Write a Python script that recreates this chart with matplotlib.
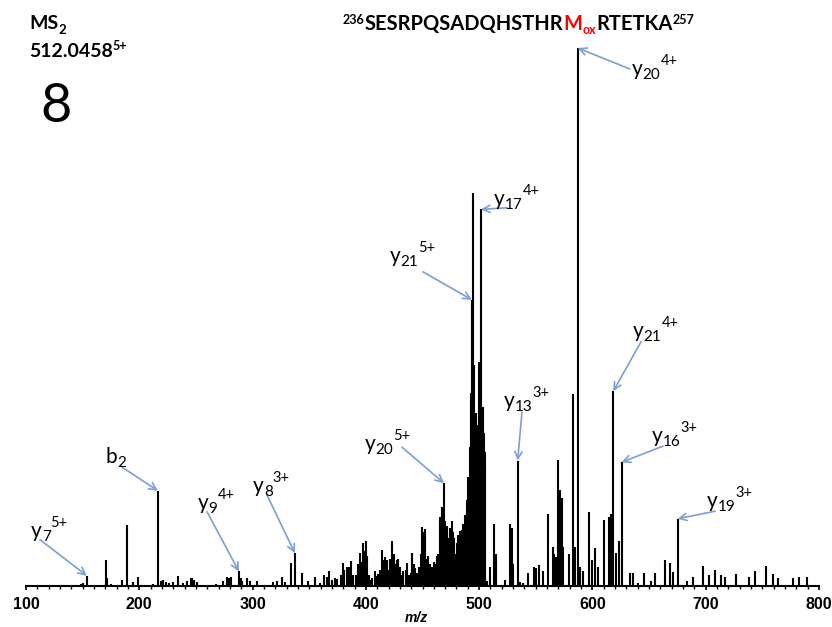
import numpy as np
import matplotlib
matplotlib.use('Agg')
import matplotlib.pyplot as plt
from matplotlib.ticker import MultipleLocator

plt.rcParams['font.family'] = ['Lato', 'DejaVu Sans']

#%% peak list (m/z, relative intensity %)
mz = np.array([
    148.5, 150.0, 153.8, 170.6, 171.8, 174.7, 184.7, 189.1, 194.2, 198.9,
    211.8, 216.5, 219.2, 220.6, 223.3, 226.5, 230.0, 234.2, 238.3, 241.8,
    245.4, 246.8, 248.5, 250.6, 267.4, 273.6, 277.7, 279.4, 281.2, 288.0,
    289.5, 290.8, 295.3, 297.7, 303.6, 318.3, 321.3, 326.0, 328.9, 333.9,
    337.4, 343.9, 349.2, 355.3, 359.5, 363.0, 365.4, 367.7, 370.4, 372.5,
    374.8, 377.7, 379.0, 380.1, 381.0, 383.0, 384.5, 385.5, 386.6, 388.9,
    391.0, 392.7, 393.5, 394.8, 396.4, 397.7, 398.9, 399.8, 401.2, 403.0,
    404.0, 405.5, 408.0, 410.2, 411.0, 412.5, 413.9, 414.8, 415.8, 416.8,
    418.3, 419.5, 420.5, 421.5, 422.8, 424.2, 425.1, 426.0, 427.2, 428.6,
    430.0, 431.5, 433.1, 435.0, 436.6, 438.0, 439.5, 440.4, 441.0, 442.2,
    443.3, 445.5, 446.5, 447.5, 448.5, 449.5, 450.5, 451.0, 452.5, 453.8,
    455.1, 456.3, 457.5, 458.8, 460.0, 461.3, 462.5, 463.2, 464.0, 465.4,
    466.2, 467.2, 468.2, 469.0, 470.2, 471.3, 472.8, 473.5, 474.2, 475.7,
    476.5, 477.2, 478.2, 479.0, 480.3, 481.6, 483.3, 484.7, 485.3, 486.0,
    487.5, 488.2, 489.0, 489.7, 490.4, 491.2, 491.9, 492.8, 493.6, 494.5,
    495.7, 496.9, 497.6, 498.3, 499.0, 499.6, 500.6, 501.0, 501.6, 502.0,
    502.4, 503.1, 503.6, 504.2, 504.8, 505.4, 506.6, 509.5, 513.4, 515.0,
    522.8, 527.2, 529.0, 530.2, 534.0, 536.0, 538.5, 543.4, 548.4, 550.1,
    553.1, 556.6, 560.4, 564.9, 566.3, 567.8, 569.8, 571.3, 572.8, 574.2,
    579.0, 582.5, 584.8, 587.0, 589.0, 591.3, 597.2, 599.2, 602.2, 604.5,
    610.4, 614.6, 616.0, 618.4, 620.7, 623.1, 625.7, 633.1, 636.0, 640.4,
    645.7, 651.3, 655.1, 663.9, 668.3, 671.3, 675.2, 683.1, 689.0, 697.2,
    703.1, 708.1, 713.4, 716.9, 726.7, 738.1, 743.4, 753.1, 759.0, 763.4,
    776.7, 782.5, 789.6])
intensity = np.array([
    0.4, 0.5, 1.9, 4.8, 1.5, 0.3, 1.1, 11.3, 0.7, 1.6,
    0.4, 17.7, 1.0, 1.1, 0.8, 0.6, 0.7, 1.9, 0.6, 0.9,
    1.4, 1.4, 1.1, 0.7, 0.4, 0.9, 1.7, 1.5, 1.7, 2.7,
    1.5, 0.9, 1.4, 0.9, 0.9, 0.7, 0.9, 1.7, 0.7, 4.2,
    6.1, 2.4, 0.9, 1.6, 0.6, 2.0, 1.7, 2.8, 1.1, 1.5,
    1.3, 2.0, 1.5, 4.3, 3.0, 3.6, 2.5, 3.5, 4.7, 2.0,
    2.0, 3.0, 4.0, 6.1, 4.5, 7.9, 6.5, 8.4, 5.5, 2.0,
    1.2, 1.5, 2.8, 1.8, 2.2, 3.0, 6.7, 4.8, 4.0, 5.4,
    4.8, 3.0, 2.5, 5.0, 8.4, 5.6, 5.9, 4.0, 4.8, 5.0,
    3.6, 2.0, 2.8, 3.0, 4.3, 2.0, 2.4, 6.1, 6.1, 4.0,
    3.3, 2.5, 3.5, 3.5, 6.0, 11.0, 10.0, 7.0, 10.6, 5.0,
    5.5, 4.0, 3.0, 3.5, 4.5, 4.0, 5.3, 5.5, 6.0, 12.9,
    10.0, 14.7, 14.0, 19.1, 12.0, 11.2, 8.0, 9.0, 10.7, 12.0,
    10.0, 7.3, 9.0, 6.0, 8.0, 9.5, 10.2, 9.0, 10.5, 11.6,
    13.2, 12.0, 14.1, 16.0, 20.3, 20.0, 25.9, 35.8, 53.2, 73.0,
    41.1, 32.1, 29.0, 25.9, 30.0, 41.7, 30.0, 35.0, 70.0, 30.0,
    28.0, 33.3, 27.0, 28.4, 25.0, 22.2, 1.0, 3.6, 11.6, 6.0,
    1.1, 11.6, 10.7, 4.0, 23.3, 0.8, 0.6, 2.4, 3.6, 3.3,
    3.9, 2.7, 13.4, 7.2, 5.9, 5.4, 23.5, 17.8, 16.3, 7.3,
    5.9, 35.7, 7.3, 100.0, 3.6, 2.7, 13.8, 4.8, 7.0, 3.6,
    12.3, 12.9, 13.3, 36.2, 6.2, 8.4, 23.0, 2.4, 2.4, 0.5,
    2.4, 1.0, 2.4, 4.8, 4.3, 2.6, 12.5, 1.0, 1.7, 3.7,
    2.1, 2.9, 2.0, 1.6, 2.3, 1.6, 2.8, 3.7, 2.3, 1.4,
    1.4, 1.7, 1.7])

#%% fragment labels
ion_letter = ['y', 'y', 'y', 'y', 'y', 'y', 'y', 'y', 'b', 'y', 'y', 'y']
ion_sub = ['20', '17', '21', '21', '13', '16', '19', '20', '2', '9', '8', '7']
ion_sup = ['4+', '4+', '5+', '4+', '3+', '3+', '3+', '5+', '', '4+', '3+', '5+']
ion_mz = [587.0, 501.6, 493.6, 618.4, 534.0, 625.7, 675.2, 469.0, 216.5, 288.0, 337.4, 153.8]
label_mz = [634.9, 513.1, 421.3, 635.8, 521.9, 652.6, 701.1, 399.2, 170.6, 251.8, 300.4, 104.4]
label_int = [95.0, 70.8, 60.2, 46.3, 33.3, 26.8, 14.7, 25.3, 22.9, 14.3, 17.5, 9.1]
tail_mz = [633.1, 524.6, 450.4, 642.9, 537.8, 662.3, 708.2, 431.9, 184.7, 259.8, 312.7, 112.4]
tail_int = [96.1, 70.3, 58.4, 45.4, 32.3, 26.0, 13.9, 25.8, 22.1, 13.8, 16.9, 8.6]

W, H = 832, 627
fig = plt.figure(figsize=(W / 100, H / 100), dpi=100)
ax = fig.add_axes([26 / W, 41 / H, 793 / W, 538 / H])

ax.vlines(mz, 0, intensity, color='black', lw=1.5, clip_on=False)
ax.set_xlim(100, 800)
ax.set_ylim(0, 100)
for s in ['left', 'top', 'right']:
    ax.spines[s].set_visible(False)
ax.spines['bottom'].set_linewidth(1.5)
ax.set_yticks([])
ax.xaxis.set_major_locator(MultipleLocator(100))
ax.xaxis.set_minor_locator(MultipleLocator(10))
ax.tick_params(axis='x', which='major', direction='out', length=3, width=1.2, pad=5, labelsize=11.5)
ax.tick_params(axis='x', which='minor', direction='out', length=2, width=1)
for lab in ax.get_xticklabels():
    lab.set_fontweight('bold')
    lab.set_family('Liberation Sans')
ax.set_xlabel('m/z', fontsize=10, fontweight='bold', style='italic', family='Liberation Sans')
ax.xaxis.set_label_coords((416 - 26) / 793, -32 / 538)
ax.xaxis.label.set_va('center')

renderer = fig.canvas.get_renderer()


def draw_pieces(x, y, pieces):
    # x, y: display pixels of the baseline start
    for s, size, col, dy, weight in pieces:
        t = fig.text(x / W, (y + dy) / H, s, fontsize=size, color=col,
                     fontweight=weight, va='baseline', ha='left')
        x += t.get_window_extent(renderer).width


arrow_col = '#7b9fd3'
for i in range(len(ion_mz)):
    k = np.argmin(np.abs(mz - ion_mz[i]))
    ax.annotate('', xy=(mz[k], intensity[k]), xytext=(tail_mz[i], tail_int[i]),
                arrowprops=dict(arrowstyle='->', color=arrow_col, lw=1.2,
                                shrinkA=0, shrinkB=0, mutation_scale=13),
                annotation_clip=False)
    px, py = ax.transData.transform((label_mz[i], label_int[i]))
    pieces = [(ion_letter[i], 15, 'black', 0, 'normal'),
              (ion_sub[i], 11, 'black', -4, 'normal')]
    if ion_sup[i]:
        pieces.append((ion_sup[i], 10.5, 'black', 10, 'normal'))
    draw_pieces(px, py, pieces)

#%% header text
draw_pieces(29, H - 29, [('MS', 14, 'black', 0, 'bold'), ('2', 9.5, 'black', -5, 'bold')])
draw_pieces(29, H - 57, [('512.0458', 14, 'black', 0, 'bold'), ('5+', 9, 'black', 7, 'bold')])
fig.text(40 / W, 1 - 122 / H, '8', fontsize=39, va='baseline', ha='left')
draw_pieces(343, H - 30, [('236', 9, 'black', 6, 'bold'),
                          ('SESRPQSADQHSTHR', 14.5, 'black', 0, 'bold'),
                          ('M', 14.5, 'red', 0, 'bold'),
                          ('ox', 9, 'red', -4, 'bold'),
                          ('RTETKA', 14.5, 'black', 0, 'bold'),
                          ('257', 9, 'black', 6, 'bold')])

fig.savefig('out.png', dpi=100)
